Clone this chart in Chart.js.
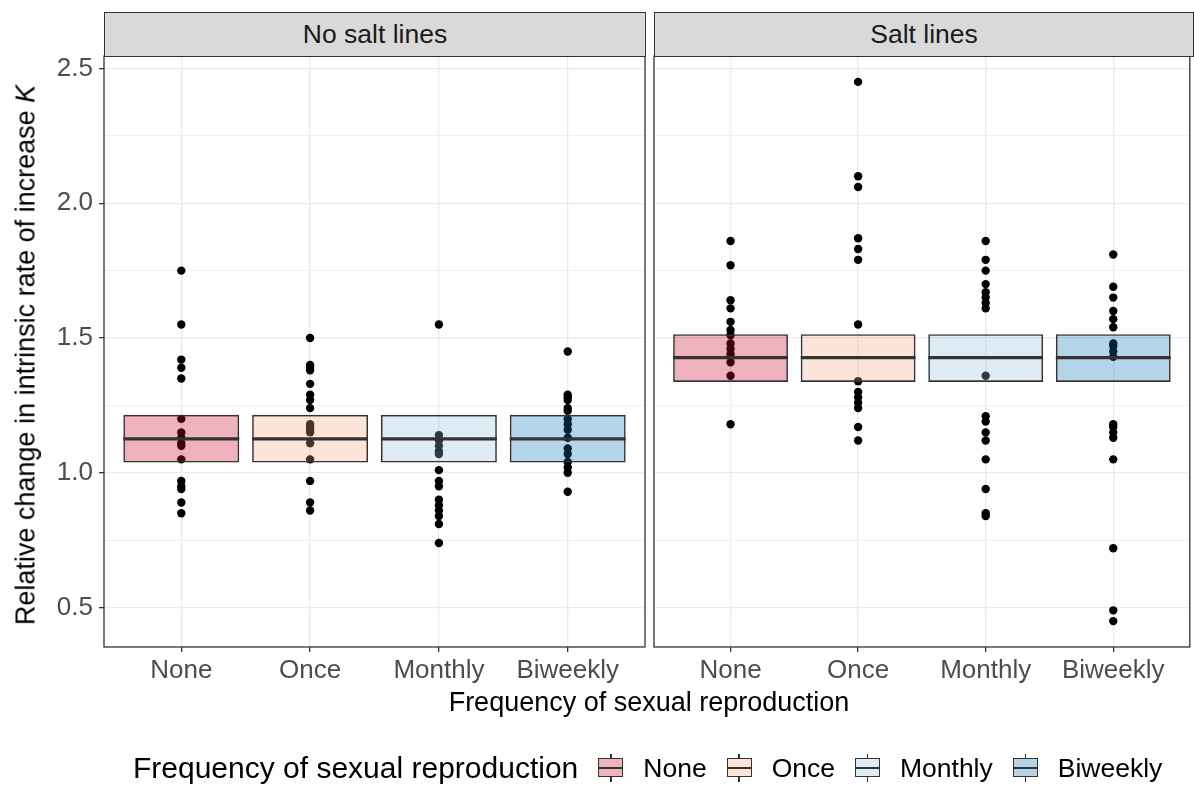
<!DOCTYPE html>
<html>
<head>
<meta charset="utf-8">
<script src="https://cdn.jsdelivr.net/npm/chart.js@4.4.1/dist/chart.umd.min.js"></script>
<style>
  body { margin: 0; background: #fff; font-family: "Liberation Sans", Arial, sans-serif; }
  #wrap { position: relative; width: 1194px; height: 785px; overflow: hidden; }
  #wrap canvas { position: absolute; left: 0; top: 0; }
  .strip { position: absolute; top: 12px; height: 45px; box-sizing: border-box; background: #d9d9d9;
           border: 1.3px solid #333; color: #1a1a1a; font-size: 26.5px; text-align: center; line-height: 42px; }
  #ytitle { position: absolute; left: 26px; top: 355px; transform: translate(-50%, -50%) rotate(-90deg);
            white-space: nowrap; font-size: 27px; color: #000; line-height: 1; }
  #xtitle { position: absolute; left: 649px; top: 689px; transform: translateX(-50%); white-space: nowrap;
            font-size: 27px; color: #000; line-height: 27px; }
  #legend { position: absolute; left: 133px; top: 750px; height: 36px; display: flex; align-items: center;
            white-space: nowrap; color: #000; }
  #legend .ltitle { font-size: 30px; margin-right: 20px; }
  #legend .lab { font-size: 26.5px; margin-left: 20px; margin-right: 20px; }
  .key { position: relative; width: 25px; height: 28px; }
  .key .stub { position: absolute; left: 11.75px; top: 0; width: 1.5px; height: 28px; background: #333; }
  .key .box { position: absolute; left: 0; top: 4px; width: 25px; height: 19px; box-sizing: border-box;
              border: 1.5px solid #333; }
  .key .mid { position: absolute; left: 0; top: 12.5px; width: 25px; height: 2px; background: #333; }
</style>
</head>
<body>
<div id="wrap">
  <canvas id="left" width="1194" height="785"></canvas>
  <canvas id="right" width="1194" height="785"></canvas>
  <div class="strip" style="left:104px;width:542px;">No salt lines</div>
  <div class="strip" style="left:654px;width:540px;">Salt lines</div>
  <div id="ytitle">Relative change in intrinsic rate of increase <i>K</i></div>
  <div id="xtitle">Frequency of sexual reproduction</div>
  <div id="legend"></div>
</div>
<script>
const categories = ['None', 'Once', 'Monthly', 'Biweekly'];
const panels = ['No salt lines', 'Salt lines'];

// observed values per line
const noSaltNone = [1.75, 1.55, 1.42, 1.39, 1.35, 1.20, 1.15, 1.13, 1.11, 1.10, 1.05, 0.97, 0.95, 0.94, 0.89, 0.85];
const noSaltOnce = [1.50, 1.40, 1.39, 1.38, 1.33, 1.29, 1.27, 1.24, 1.18, 1.17, 1.16, 1.15, 1.11, 1.05, 0.97, 0.89, 0.86];
const noSaltMonthly = [1.55, 1.14, 1.12, 1.10, 1.08, 1.07, 1.01, 0.97, 0.95, 0.90, 0.88, 0.86, 0.84, 0.81, 0.74];
const noSaltBiweekly = [1.45, 1.29, 1.28, 1.27, 1.24, 1.23, 1.20, 1.18, 1.16, 1.13, 1.09, 1.07, 1.04, 1.02, 1.00, 0.93];
const saltNone = [1.86, 1.77, 1.64, 1.61, 1.56, 1.53, 1.51, 1.48, 1.46, 1.44, 1.41, 1.36, 1.18];
const saltOnce = [2.45, 2.10, 2.06, 1.87, 1.83, 1.79, 1.55, 1.34, 1.30, 1.28, 1.26, 1.24, 1.17, 1.12];
const saltMonthly = [1.86, 1.79, 1.75, 1.70, 1.67, 1.65, 1.63, 1.61, 1.36, 1.21, 1.19, 1.15, 1.12, 1.05, 0.94, 0.85, 0.84];
const saltBiweekly = [1.81, 1.69, 1.65, 1.60, 1.57, 1.54, 1.48, 1.47, 1.45, 1.43, 1.18, 1.17, 1.15, 1.13, 1.05, 0.72, 0.49, 0.45];

// crossbar: [lower, middle, upper], same for every category of a panel
const noSaltBox = [1.038, 1.126, 1.215];
const saltBox = [1.337, 1.427, 1.514];

const yMajorTicks = [0.5, 1.0, 1.5, 2.0, 2.5];
const yMinorTicks = [0.75, 1.25, 1.75, 2.25];
const yLimits = [0.354, 2.546];

const fills = ['rgba(202,0,32,0.3)', 'rgba(244,165,130,0.3)', 'rgba(146,197,222,0.3)', 'rgba(5,113,176,0.3)'];
const keyFills = ['#efb3bc', '#fce3d7', '#deedf5', '#b4d4e8'];
const FONT = '"Liberation Sans", Arial, sans-serif';

const isMajor = v => yMajorTicks.some(t => Math.abs(t - v) < 1e-6);

const frame = {
  id: 'frame',
  afterDatasetsDraw(chart) {
    const a = chart.chartArea, ctx = chart.ctx;
    // middle line of each crossbar
    const meta = chart.getDatasetMeta(0);
    const mid = chart.options.plugins.frame.mid;
    ctx.save();
    ctx.strokeStyle = '#333';
    ctx.lineWidth = 3.2;
    meta.data.forEach(bar => {
      const y = chart.scales.y.getPixelForValue(mid);
      ctx.beginPath();
      ctx.moveTo(bar.x - bar.width / 2, y);
      ctx.lineTo(bar.x + bar.width / 2, y);
      ctx.stroke();
    });
    ctx.lineWidth = 1.3;
    ctx.strokeRect(a.left, a.top, a.right - a.left, a.bottom - a.top);
    ctx.restore();
  }
};

function makePanel(id, groups, box, showY) {
  const pts = [];
  groups.forEach((vals, i) => vals.forEach(v => pts.push({ x: i + 1, y: v })));
  new Chart(document.getElementById(id), {
    type: 'bar',
    data: {
      datasets: [{
        type: 'bar',
        data: categories.map((c, i) => ({ x: i + 1, y: [box[0], box[2]] })),
        backgroundColor: fills,
        borderColor: '#333',
        borderWidth: 1.6,
        borderSkipped: false,
        barPercentage: 0.9,
        categoryPercentage: 1,
        order: 0
      }, {
        type: 'scatter',
        data: pts,
        backgroundColor: '#000',
        borderWidth: 0,
        pointRadius: 4.2,
        order: 1
      }]
    },
    plugins: [frame],
    options: {
      responsive: false,
      animation: false,
      devicePixelRatio: 1,
      layout: { padding: showY ? { left: 0, right: 549, top: 56, bottom: 78 } : { left: 654, right: 1, top: 56, bottom: 78 } },
      plugins: { legend: { display: false }, tooltip: { enabled: false }, frame: { mid: box[1] } },
      scales: {
        x: {
          type: 'linear',
          min: 0.4,
          max: 4.6,
          offset: false,
          afterBuildTicks: s => { s.ticks = categories.map((c, i) => ({ value: i + 1 })); },
          afterFit: s => { s.height = 60; },
          grid: { offset: false, color: '#ebebeb', lineWidth: 1.3, tickLength: 5, tickColor: '#333', tickWidth: 1.3 },
          border: { display: false },
          ticks: {
            autoSkip: false, maxRotation: 0, padding: 3,
            color: '#4d4d4d', font: { family: FONT, size: 26 },
            callback: v => categories[v - 1] ?? ''
          }
        },
        y: {
          type: 'linear',
          min: yLimits[0],
          max: yLimits[1],
          afterBuildTicks: s => { s.ticks = yMajorTicks.concat(yMinorTicks).sort((a, b) => a - b).map(v => ({ value: v })); },
          afterFit: s => { s.width = showY ? 104 : 0; },
          grid: {
            color: '#ebebeb',
            lineWidth: c => isMajor(c.tick.value) ? 1.3 : 0.7,
            drawTicks: showY,
            tickLength: 5,
            tickWidth: 1.3,
            tickColor: c => isMajor(c.tick.value) ? '#333' : 'rgba(0,0,0,0)'
          },
          border: { display: false },
          ticks: {
            display: showY, autoSkip: false, padding: 6,
            color: '#4d4d4d', font: { family: FONT, size: 26 },
            callback: v => isMajor(v) ? v.toFixed(1) : ''
          }
        }
      }
    }
  });
}

makePanel('left', [noSaltNone, noSaltOnce, noSaltMonthly, noSaltBiweekly], noSaltBox, true);
makePanel('right', [saltNone, saltOnce, saltMonthly, saltBiweekly], saltBox, false);

// legend
const legend = document.getElementById('legend');
legend.innerHTML = '<span class="ltitle">Frequency of sexual reproduction</span>' +
  categories.map((c, i) =>
    '<div class="key"><div class="stub"></div><div class="box" style="background:' + keyFills[i] +
    '"></div><div class="mid"></div></div>' +
    '<span class="lab"' + (i === categories.length - 1 ? ' style="margin-right:0"' : '') + '>' + c + '</span>'
  ).join('');
</script>
</body>
</html>
